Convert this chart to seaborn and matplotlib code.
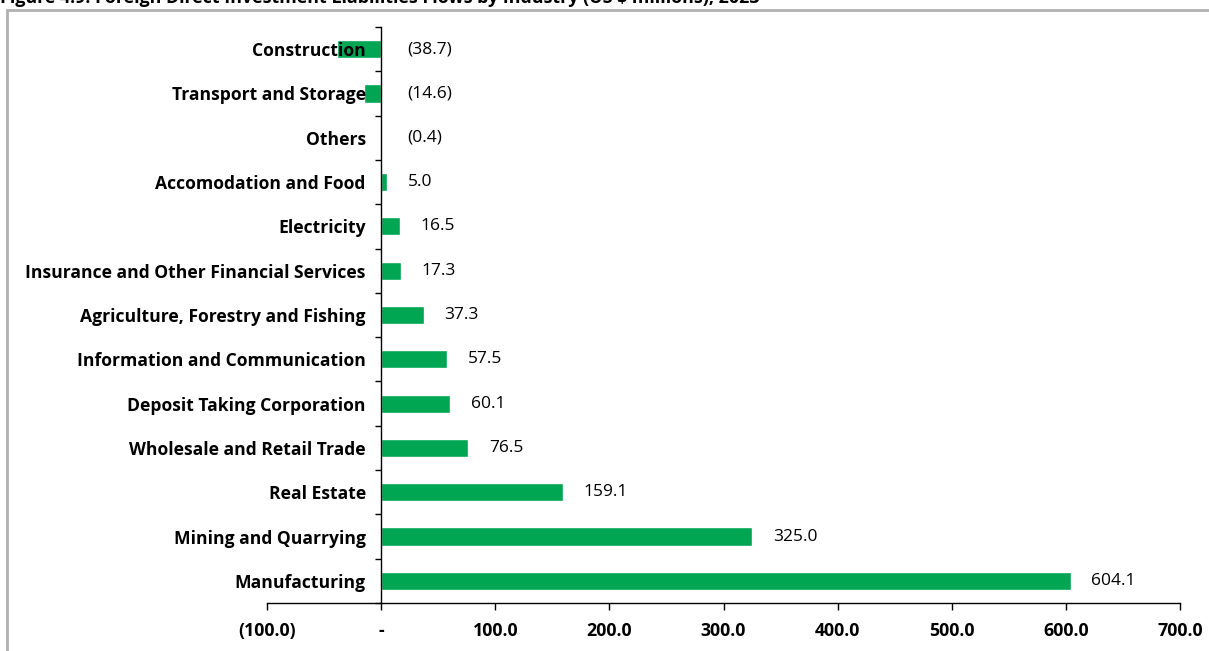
import matplotlib
matplotlib.use("Agg")
import matplotlib.pyplot as plt
from matplotlib.patches import Rectangle
import numpy as np
import pandas as pd
import seaborn as sns

# FDI liabilities flows by industry, US$ millions
industries = [
    "Construction",
    "Transport and Storage",
    "Others",
    "Accomodation and Food",
    "Electricity",
    "Insurance and Other Financial Services",
    "Agriculture, Forestry and Fishing",
    "Information and Communication",
    "Deposit Taking Corporation",
    "Wholesale and Retail Trade",
    "Real Estate",
    "Mining and Quarrying",
    "Manufacturing",
]
flows = [-38.7, -14.6, -0.4, 5.0, 16.5, 17.3, 37.3, 57.5, 60.1, 76.5, 159.1, 325.0, 604.1]

x_ticks = [-100, 0, 100, 200, 300, 400, 500, 600, 700]
x_tick_labels = ["(100.0)", "-", "100.0", "200.0", "300.0", "400.0", "500.0", "600.0", "700.0"]

title = "Figure 4.9: Foreign Direct Investment Liabilities Flows by Industry (US $ millions), 2023"

BAR_GREEN = "#00A651"

sns.set_style("white")
plt.rcParams["font.family"] = ["Open Sans", "DejaVu Sans"]
plt.rcParams["text.color"] = "black"
plt.rcParams["xtick.color"] = "black"
plt.rcParams["ytick.color"] = "black"

W, H = 1209, 651
fig = plt.figure(figsize=(W / 100, H / 100), dpi=100)
ax = fig.add_axes([267 / W, 1 - 603 / H, (1180 - 267) / W, (603 - 27) / H])

df = pd.DataFrame({"industry": industries, "flow": flows})
sns.barplot(data=df, x="flow", y="industry", orient="h", color=BAR_GREEN,
            width=0.41, saturation=1, ax=ax)

ax.set_xlim(-100, 700)
ax.set_ylim(len(industries) - 0.5, -0.5)
ax.set_xlabel("")
ax.set_ylabel("")
ax.set_axisbelow(False)

# spines: vertical axis sits at zero
for side in ("top", "right"):
    ax.spines[side].set_visible(False)
ax.spines["left"].set_position(("data", 0))
for side in ("left", "bottom"):
    ax.spines[side].set_color("black")
    ax.spines[side].set_linewidth(1.0)

# x axis
ax.set_xticks(x_ticks)
ax.set_xticklabels(x_tick_labels, fontsize=12.8, fontweight="bold", color="black")
ax.tick_params(axis="x", bottom=True, direction="out", length=5, width=1,
               color="black", labelcolor="black", pad=9)

# y axis: labels at category centres, tick marks at category boundaries
ax.set_yticks(range(len(industries)))
ax.set_yticklabels(industries, fontsize=12.6, fontweight="bold", color="black")
ax.tick_params(axis="y", which="major", left=True, length=0, pad=11, labelcolor="black")
ax.set_yticks(np.arange(-0.5, len(industries), 1), minor=True)
ax.tick_params(axis="y", which="minor", left=True, direction="out", length=4.5,
               width=1, color="black")

# value labels
for i, v in enumerate(flows):
    txt = f"({abs(v):.1f})" if v < 0 else f"{v:.1f}"
    ax.annotate(txt, xy=(max(v, 0), i), xytext=(15 if v >= 0 else 19, 0),
                textcoords="offset points", ha="left", va="center", fontsize=12.5,
                color="black")

# outer frame and title
fig.patches.append(Rectangle((7 / W, -0.1), 1.2, 1.1 - 10 / H, transform=fig.transFigure,
                             fill=False, edgecolor="#B0B0B0", linewidth=2))
fig.text(0, 1 - 3 / H, title, ha="left", va="baseline", fontsize=12.9, fontweight="bold",
         color="black", family=["Open Sans", "DejaVu Sans"])

fig.savefig("out.png", dpi=100)
